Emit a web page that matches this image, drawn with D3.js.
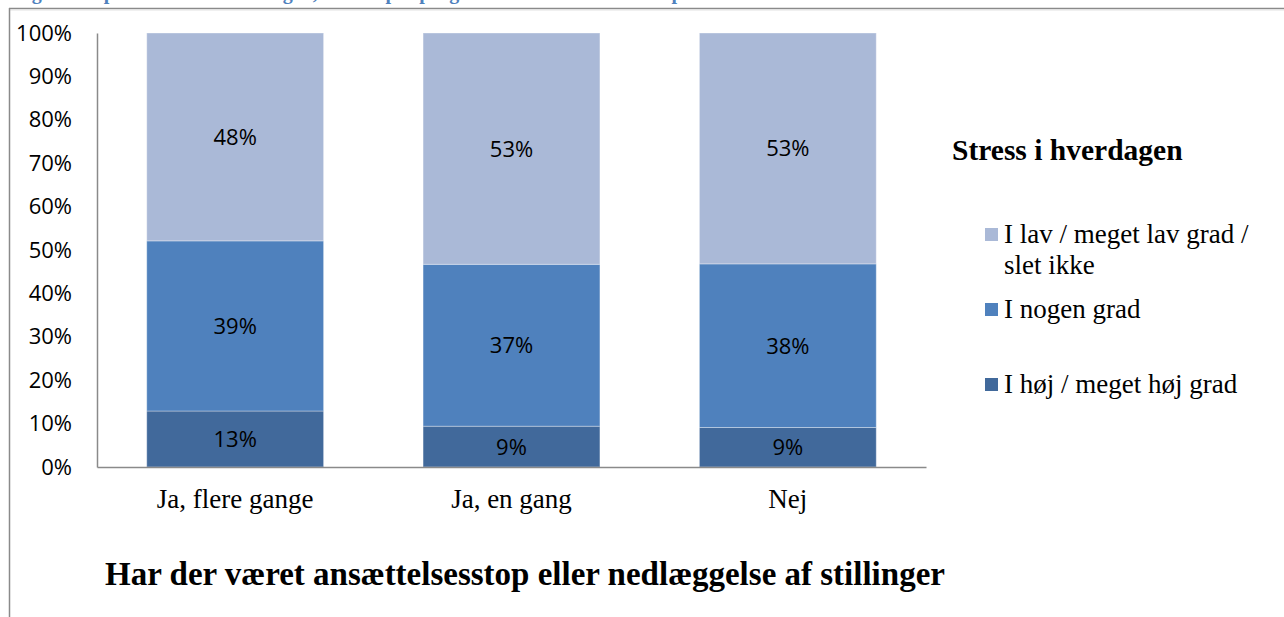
<!DOCTYPE html>
<html><head><meta charset="utf-8">
<script src="https://cdn.jsdelivr.net/npm/d3@7"></script>
<style>body{margin:0;background:#fff}svg{display:block}</style>
</head><body>
<svg id="c" width="1284" height="617"></svg>
<script>
const categories = ["Ja, flere gange", "Ja, en gang", "Nej"];
const seriesNames = ["I høj / meget høj grad", "I nogen grad", "I lav / meget lav grad / slet ikke"];
const hoej  = [12.9, 9.4, 9.1];
const nogen = [39.2, 37.3, 37.7];
const lav   = [47.9, 53.3, 53.2];
const labHoej  = ["13%", "9%", "9%"];
const labNogen = ["39%", "37%", "38%"];
const labLav   = ["48%", "53%", "53%"];
const yTicks = [0,10,20,30,40,50,60,70,80,90,100];
const colors = ["#41699B", "#4F81BD", "#AAB9D7"];
const xTitle = "Har der været ansættelsesstop eller nedlæggelse af stillinger";
const legendTitle = "Stress i hverdagen";
const topTitle = "Figur 9: Oplevet stress i hverdagen, fordelt på spørgsmålet om ansættelsesstop";

const svg = d3.select("#c");
// frame
svg.append("text").attr("x", 14).attr("y", -1).attr("font-family","Liberation Serif")
  .attr("font-weight","bold").attr("font-size",20).attr("fill","#4F81BD").text(topTitle);
svg.append("line").attr("x1",9).attr("x2",1284).attr("y1",8.5).attr("y2",8.5).attr("stroke","#8a8a8a").attr("stroke-width",1.5);
svg.append("line").attr("x1",9).attr("x2",1284).attr("y1",10).attr("y2",10).attr("stroke","#e2e2e2").attr("stroke-width",1);
svg.append("line").attr("x1",9.5).attr("x2",9.5).attr("y1",8).attr("y2",617).attr("stroke","#8a8a8a").attr("stroke-width",1.5);

const x = d3.scaleBand().domain(categories).range([97, 926]).paddingInner(0.36).paddingOuter(0.18);
const y = d3.scaleLinear().domain([0, 100]).range([467, 33]);

const rows = categories.map((c, i) => ({cat: c, vals: [hoej[i], nogen[i], lav[i]], labs: [labHoej[i], labNogen[i], labLav[i]]}));
const stacked = d3.stack().keys([0,1,2]).value((d, k) => d.vals[k])(rows);

stacked.forEach((layer, k) => {
  const g = svg.append("g");
  g.selectAll("rect").data(layer).join("rect")
    .attr("x", d => x(d.data.cat)).attr("width", x.bandwidth())
    .attr("y", d => y(d[1])).attr("height", d => y(d[0]) - y(d[1]))
    .attr("fill", colors[k]).attr("stroke", "rgba(255,255,255,0.35)").attr("stroke-width", 1);
  g.selectAll("text").data(layer).join("text")
    .attr("x", d => x(d.data.cat) + x.bandwidth()/2)
    .attr("y", d => (y(d[0]) + y(d[1]))/2)
    .attr("dy", "0.36em").attr("text-anchor","middle")
    .attr("font-family","Open Sans").attr("font-size",22).attr("fill","#000")
    .text(d => d.data.labs[k]);
});

// y axis
const ya = svg.append("g").attr("transform","translate(97,0)")
  .call(d3.axisLeft(y).tickValues(yTicks).tickSize(0).tickSizeOuter(0).tickPadding(25).tickFormat(d => d + "%"));
ya.select(".domain").attr("stroke","#8a8a8a").attr("stroke-width",1.5);
ya.selectAll("text").attr("font-family","Open Sans").attr("font-size",22).attr("fill","#000");

// x axis
const xa = svg.append("g").attr("transform","translate(0,467)")
  .call(d3.axisBottom(x).tickSize(0).tickSizeOuter(0).tickPadding(22));
xa.select(".domain").attr("stroke","#8a8a8a").attr("stroke-width",1.5);
xa.selectAll("text").attr("font-family","Liberation Serif").attr("font-size",27).attr("fill","#000");

svg.append("text").attr("x", 525).attr("y", 585).attr("text-anchor","middle")
  .attr("font-family","Liberation Serif").attr("font-weight","bold").attr("font-size",33).attr("fill","#000").text(xTitle);

// legend
svg.append("text").attr("x", 952).attr("y", 160)
  .attr("font-family","Liberation Serif").attr("font-weight","bold").attr("font-size",29.5).attr("fill","#000").text(legendTitle);
const legendItems = [
  {k: 2, lines: ["I lav / meget lav grad /", "slet ikke"], y: 243},
  {k: 1, lines: [seriesNames[1]], y: 318},
  {k: 0, lines: [seriesNames[0]], y: 393}
];
legendItems.forEach(it => {
  svg.append("rect").attr("x", 985).attr("y", it.y - 15).attr("width", 13).attr("height", 13).attr("fill", colors[it.k]);
  const t = svg.append("text").attr("x", 1004).attr("y", it.y)
    .attr("font-family","Liberation Serif").attr("font-size",27).attr("fill","#000");
  it.lines.forEach((l, i) => t.append("tspan").attr("x", 1004).attr("dy", i ? 31 : 0).text(l));
});
</script>
</body></html>
